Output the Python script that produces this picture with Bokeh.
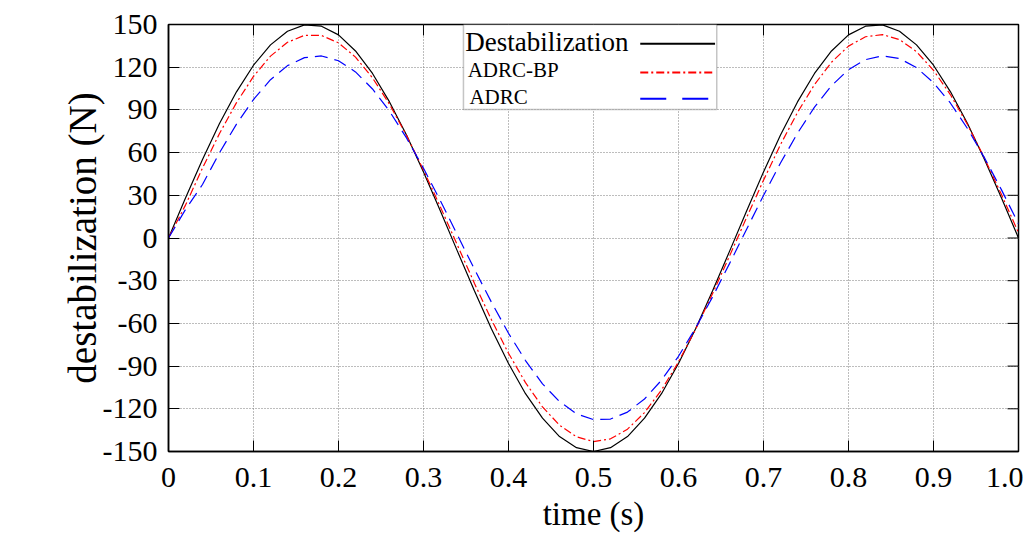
from bokeh.plotting import figure
from bokeh.models import (Range1d, FixedTicker, CustomJSTickFormatter,
                          Label, BoxAnnotation, Arrow)
from bokeh.embed import file_html
from bokeh.resources import INLINE

# ---------------- data ----------------
time_s = [0.00, 0.02, 0.04, 0.06, 0.08, 0.10, 0.12, 0.14, 0.16, 0.18,
          0.20, 0.22, 0.24, 0.26, 0.28, 0.30, 0.32, 0.34, 0.36, 0.38,
          0.40, 0.42, 0.44, 0.46, 0.48, 0.50, 0.52, 0.54, 0.56, 0.58,
          0.60, 0.62, 0.64, 0.66, 0.68, 0.70, 0.72, 0.74, 0.76, 0.78,
          0.80, 0.82, 0.84, 0.86, 0.88, 0.90, 0.92, 0.94, 0.96, 0.98, 1.00]

destabilization = [0.0, 28.1, 55.2, 80.4, 102.7, 121.4, 135.7, 145.3, 149.7, 148.8,
                   142.7, 131.4, 115.6, 95.6, 72.3, 46.4, 18.8, -9.4, -37.3, -63.9,
                   -88.2, -109.4, -126.6, -139.5, -147.3, -150.0, -147.3, -139.5, -126.6, -109.4,
                   -88.2, -63.9, -37.3, -9.4, 18.8, 46.4, 72.3, 95.6, 115.6, 131.4,
                   142.7, 148.8, 149.7, 145.3, 135.7, 121.4, 102.7, 80.4, 55.2, 28.1, 0.0]

adrc_bp = [0.0, 23.1, 49.1, 73.4, 95.1, 113.5, 127.8, 137.5, 142.4, 142.3,
           137.1, 127.1, 112.5, 94.0, 72.1, 47.7, 21.6, -5.2, -31.9, -57.5,
           -81.0, -101.6, -118.7, -131.5, -139.7, -143.0, -141.1, -134.3, -122.7, -106.8,
           -87.1, -64.3, -39.2, -12.7, 14.2, 40.6, 65.6, 88.2, 107.8, 123.5,
           134.8, 141.4, 142.9, 139.4, 130.9, 117.8, 100.6, 79.7, 56.1, 30.5, 3.7]

adrc = [0.0, 20.0, 37.6, 59.9, 80.0, 97.3, 111.2, 121.1, 126.7, 127.9,
        124.5, 116.7, 104.7, 89.1, 70.3, 49.0, 26.0, 2.0, -22.0, -45.2,
        -66.9, -86.1, -102.5, -114.9, -123.5, -127.6, -127.2, -122.3, -113.1, -99.9,
        -83.1, -63.4, -41.5, -18.0, 6.0, 29.9, 52.7, 73.6, 91.9, 107.0,
        118.3, 125.3, 128.0, 126.1, 119.7, 109.1, 94.7, 76.9, 56.3, 33.8, 10.0]

x_ticks = [0.0, 0.1, 0.2, 0.3, 0.4, 0.5, 0.6, 0.7, 0.8, 0.9, 1.0]
y_ticks = [-150, -120, -90, -60, -30, 0, 30, 60, 90, 120, 150]
legend_labels = ["Destabilization", "ADRC-BP", "ADRC"]

# ---------------- figure ----------------
FONT = "Liberation Serif"
X0, X1, Y0, Y1 = 0, 1, -150, 150
p = figure(width=1023, height=539, output_backend="svg", toolbar_location=None,
           x_range=Range1d(X0, X1), y_range=Range1d(Y0, Y1),
           min_border_left=168, min_border_top=24, min_border_bottom=88,
           min_border_right=5)

p.background_fill_color = "white"
p.border_fill_color = "white"
p.outline_line_color = "black"
p.outline_line_width = 1.5

for ax in (p.xaxis[0], p.yaxis[0]):
    ax.major_tick_in = 11
    ax.major_tick_out = 0
    ax.minor_tick_in = 0
    ax.minor_tick_out = 0
    ax.axis_line_color = "black"
    ax.axis_line_width = 1.5
    ax.major_tick_line_color = "black"
    ax.major_label_text_font = FONT
    ax.major_label_text_font_size = "30px"
    ax.major_label_text_color = "black"
    ax.axis_label_text_font = FONT
    ax.axis_label_text_font_style = "normal"
    ax.axis_label_text_color = "black"

p.xaxis[0].ticker = FixedTicker(ticks=x_ticks)
p.xaxis[0].formatter = CustomJSTickFormatter(
    code="return tick == 0 ? '0' : tick.toFixed(1);")
p.xaxis[0].major_label_standoff = 16
p.xaxis[0].axis_label = "time (s)"
p.xaxis[0].axis_label_text_font_size = "33px"
p.xaxis[0].axis_label_standoff = 6

p.yaxis[0].ticker = FixedTicker(ticks=y_ticks)
p.yaxis[0].formatter = CustomJSTickFormatter(code="return String(tick);")
p.yaxis[0].major_label_standoff = 11
p.yaxis[0].axis_label = "destabilization (N)"
p.yaxis[0].axis_label_text_font_size = "39px"
p.yaxis[0].axis_label_standoff = -4

for g in (p.xgrid[0], p.ygrid[0]):
    g.grid_line_color = "#7a7a7a"
    g.grid_line_dash = "1 2"
    g.grid_line_width = 1

# inward tick marks on the top and right frame edges (at the same ticks)
tick_len_x = (X1 - X0) * 11 / 850
tick_len_y = (Y1 - Y0) * 11 / 427
p.segment(x0=x_ticks, y0=[Y1] * len(x_ticks), x1=x_ticks,
          y1=[Y1 - tick_len_y] * len(x_ticks), line_color="black", line_width=1)
p.segment(x0=[X1] * len(y_ticks), y0=y_ticks, x1=[X1 - tick_len_x] * len(y_ticks),
          y1=y_ticks, line_color="black", line_width=1)

# ---------------- series ----------------
p.line(time_s, destabilization, line_color="black", line_width=1.2)
p.line(time_s, adrc_bp, line_color="#ff0000", line_width=1.2, line_dash="8 3 2 3")
p.line(time_s, adrc, line_color="#0000ff", line_width=1.2, line_dash="13 7")

# ---------------- legend (box, labels, samples) ----------------
box = BoxAnnotation(left=0.347, right=0.645, top=150, bottom=90.3,
                    fill_color="white", fill_alpha=1.0,
                    line_color="#404040", line_width=1.5)
p.add_layout(box)

legend_styles = [
    dict(color="black", dash="solid", size="27px", x=0.349, y=138.0),
    dict(color="#ff0000", dash="8 3 2 3", size="21px", x=0.352, y=117.7),
    dict(color="#0000ff", dash="26 16", size="21px", x=0.354, y=99.4),
]
for lab, st in zip(legend_labels, legend_styles):
    p.add_layout(Label(x=st["x"], y=st["y"], text=lab, text_font=FONT,
                       text_font_size=st["size"], text_color="black",
                       text_baseline="middle", text_align="left"))
    p.add_layout(Arrow(end=None, x_start=0.555, y_start=st["y"] - 1.5,
                       x_end=0.643, y_end=st["y"] - 1.5,
                       line_color=st["color"], line_width=2, line_dash=st["dash"]))

open("out.html", "w").write(file_html(p, INLINE))
